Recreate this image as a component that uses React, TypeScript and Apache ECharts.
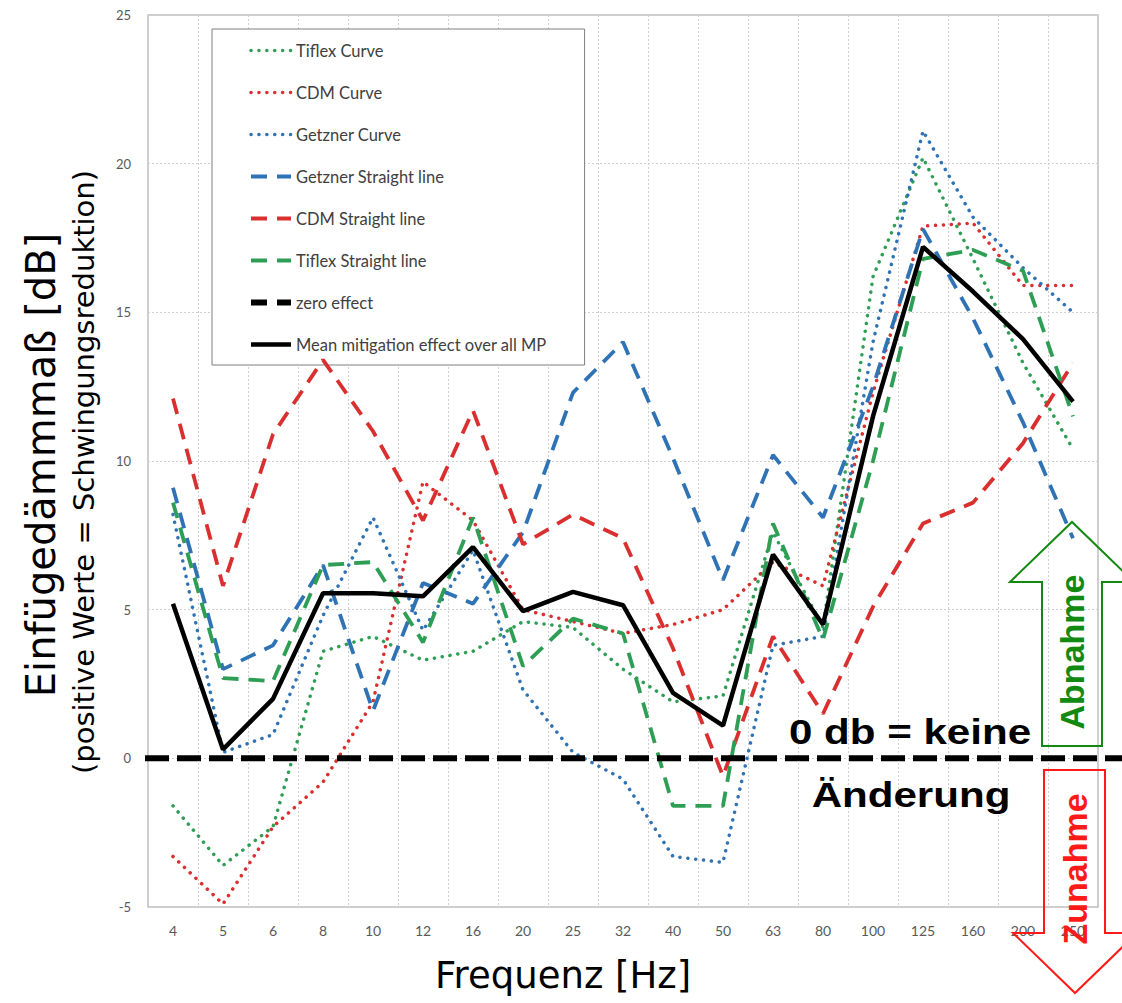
import React, { useEffect, useRef } from 'react';
import * as echarts from 'echarts';

const categories = ['4', '5', '6', '8', '10', '12', '16', '20', '25', '32', '40', '50', '63', '80', '100', '125', '160', '200', '250'];

const tiflexCurve = [-1.6, -3.6, -2.3, 3.6, 4.1, 3.3, 3.6, 4.6, 4.4, 3.0, 1.9, 2.1, 7.6, 4.4, 16.2, 20.2, 16.8, 13.3, 10.4];
const cdmCurve = [-3.3, -4.9, -2.3, -0.8, 1.9, 9.3, 8.0, 5.0, 4.6, 4.2, 4.5, 5.0, 6.6, 5.8, 12.3, 17.9, 18.0, 15.9, 15.9];
const getznerCurve = [8.2, 0.2, 0.8, 4.8, 8.1, 4.3, 7.0, 2.3, 0.2, -0.7, -3.3, -3.5, 3.8, 4.1, 14.0, 21.1, 18.2, 16.5, 15.0];
const getznerStraight = [9.1, 3.0, 3.8, 6.5, 1.6, 5.9, 5.2, 7.6, 12.3, 14.0, 10.1, 6.0, 10.2, 8.1, 12.5, 17.8, 14.8, 11.3, 7.4];
const cdmStraight = [12.1, 5.8, 10.9, 13.4, 11.0, 8.0, 11.7, 7.2, 8.2, 7.4, 3.7, -0.6, 4.1, 1.5, 5.1, 7.9, 8.6, 10.6, 13.3];
const tiflexStraight = [8.6, 2.7, 2.6, 6.5, 6.6, 3.9, 8.1, 3.1, 4.7, 4.2, -1.6, -1.6, 7.9, 4.0, 10.0, 16.8, 17.1, 16.4, 11.5];
const zeroEffect: number[] = [];
const meanEffect = [5.2, 0.3, 2.0, 5.55, 5.55, 5.45, 7.1, 4.95, 5.6, 5.15, 2.2, 1.1, 6.85, 4.5, 11.5, 17.2, 15.7, 14.1, 12.0];

const yTicks = { min: -5, max: 25, interval: 5 };

const GREEN = '#2f9e55';
const RED = '#d9302f';
const BLUE = '#2f73b5';

const DOT_STYLE = { width: 3.5, type: [0.1, 7.8], cap: 'round' };
const DASH_STYLE = { width: 3.8, type: [16, 10], cap: 'butt' };
const ZERO_STYLE = { width: 6, type: [16, 10], cap: 'butt' };
const MEAN_STYLE = { width: 4.5, type: 'solid', cap: 'butt' };

export default function App() {
  const ref = useRef<HTMLDivElement>(null);

  useEffect(() => {
    const chart = echarts.init(ref.current!, null, { renderer: 'svg' });

    const mk = (name: string, data: number[], color: string, st: any, z: number) => ({
      name,
      type: 'line',
      data,
      symbol: 'none',
      z,
      itemStyle: { color },
      lineStyle: { color, ...st },
    });

    const seriesDefs = [
      mk('Tiflex Curve', tiflexCurve, GREEN, DOT_STYLE, 3),
      mk('CDM Curve', cdmCurve, RED, DOT_STYLE, 3),
      mk('Getzner Curve', getznerCurve, BLUE, DOT_STYLE, 3),
      mk('Getzner Straight line', getznerStraight, BLUE, DASH_STYLE, 4),
      mk('CDM Straight line', cdmStraight, RED, DASH_STYLE, 4),
      mk('Tiflex Straight line', tiflexStraight, GREEN, DASH_STYLE, 4),
      mk('zero effect', zeroEffect, '#000', ZERO_STYLE, 5),
      mk('Mean mitigation effect over all MP', meanEffect, '#000', MEAN_STYLE, 6),
    ];

    const legendData = seriesDefs.map((s: any) => ({
      name: s.name,
      itemStyle: { opacity: 0 },
      lineStyle: { ...s.lineStyle },
    }));

    const baseGraphic: any[] = [
      {
        type: 'text', id: 'ytitle1', x: 41, y: 465, rotation: Math.PI / 2,
        style: { text: 'Einfügedämmmaß [dB]', font: '40px "DejaVu Sans"', fill: '#000', textAlign: 'center', textVerticalAlign: 'middle' },
      },
      {
        type: 'text', id: 'ytitle2', x: 84, y: 472, rotation: Math.PI / 2,
        style: { text: '(positive Werte = Schwingungsreduktion)', font: '29px "DejaVu Sans"', fill: '#000', textAlign: 'center', textVerticalAlign: 'middle' },
      },
      {
        type: 'text', id: 'xtitle', x: 435, y: 975,
        style: { text: 'Frequenz [Hz]', font: '37px "DejaVu Sans"', fill: '#000', textAlign: 'left', textVerticalAlign: 'middle' },
      },
      {
        type: 'text', id: 'zero1', x: 910, y: 732, scaleX: 1.17, z: 60,
        style: { text: '0 db = keine', font: 'bold 36px "Liberation Sans"', fill: '#000', textAlign: 'center', textVerticalAlign: 'middle' },
      },
      {
        type: 'text', id: 'zero2', x: 911, y: 795, scaleX: 1.17, z: 60,
        style: { text: 'Änderung', font: 'bold 36px "Liberation Sans"', fill: '#000', textAlign: 'center', textVerticalAlign: 'middle' },
      },
      {
        type: 'polygon', id: 'arrowUp', z: 55,
        shape: { points: [[1042, 746], [1102, 746], [1102, 582], [1134, 582], [1072, 522], [1010, 582], [1042, 582]] },
        style: { fill: 'rgba(255,255,255,0)', stroke: '#128a12', lineWidth: 2 },
      },
      {
        type: 'polygon', id: 'arrowDown', z: 55,
        shape: { points: [[1044, 770], [1105, 770], [1105, 933], [1137, 933], [1075, 993], [1013, 933], [1044, 933]] },
        style: { fill: 'rgba(255,255,255,0)', stroke: '#ff1a1a', lineWidth: 2 },
      },
      {
        type: 'text', id: 'abnahme', x: 1072, y: 652, rotation: Math.PI / 2, z: 60,
        style: { text: 'Abnahme', font: 'bold 34px "Liberation Sans"', fill: '#128a12', textAlign: 'center', textVerticalAlign: 'middle' },
      },
      {
        type: 'text', id: 'zunahme', x: 1075, y: 869, rotation: Math.PI / 2, z: 60,
        style: { text: 'Zunahme', font: 'bold 34px "Liberation Sans"', fill: '#ff1a1a', textAlign: 'center', textVerticalAlign: 'middle' },
      },
    ];

    const option: any = {
      animation: false,
      backgroundColor: '#fff',
      grid: {
        left: 148, right: 24, top: 15, bottom: 96,
        show: true, borderColor: '#bfbfbf', borderWidth: 1.5, backgroundColor: 'rgba(0,0,0,0)',
      },
      legend: {
        orient: 'vertical',
        left: 212,
        top: 29,
        padding: [13, 38, 12, 36],
        itemGap: 25,
        itemWidth: 40,
        itemHeight: 14,
        backgroundColor: '#fff',
        borderColor: '#7f7f7f',
        borderWidth: 1,
        itemStyle: { opacity: 0 },
        textStyle: { fontFamily: 'Lato', fontSize: 16.5, color: '#404040' },
        data: legendData,
      },
      xAxis: {
        type: 'category',
        data: categories,
        boundaryGap: true,
        axisLine: { show: false },
        axisTick: { show: false },
        axisLabel: { fontFamily: 'Lato', fontSize: 14, color: '#595959', margin: 16 },
        splitLine: { show: true, lineStyle: { color: '#d0d0d0', width: 1, type: [2, 2] } },
      },
      yAxis: {
        type: 'value',
        min: yTicks.min,
        max: yTicks.max,
        interval: yTicks.interval,
        axisLine: { show: false },
        axisTick: { show: false },
        axisLabel: { fontFamily: 'Lato', fontSize: 13, color: '#595959', margin: 17 },
        splitLine: { show: true, lineStyle: { color: '#d0d0d0', width: 1, type: [2, 2] } },
      },
      series: seriesDefs,
      graphic: baseGraphic,
    };

    chart.setOption(option);
    const y0 = chart.convertToPixel({ yAxisIndex: 0 }, 0) as number;
    chart.setOption({
      graphic: [
        ...baseGraphic,
        {
          type: 'line', id: 'zeroLine', z: 50,
          shape: { x1: 145, y1: y0, x2: 1122, y2: y0 },
          style: { stroke: '#000', lineWidth: 6, lineDash: [24, 8] },
        },
      ],
    });

    return () => chart.dispose();
  }, []);

  return <div ref={ref} style={{ position: 'fixed', left: 0, top: 0, width: 1122, height: 1003 }} />;
}
